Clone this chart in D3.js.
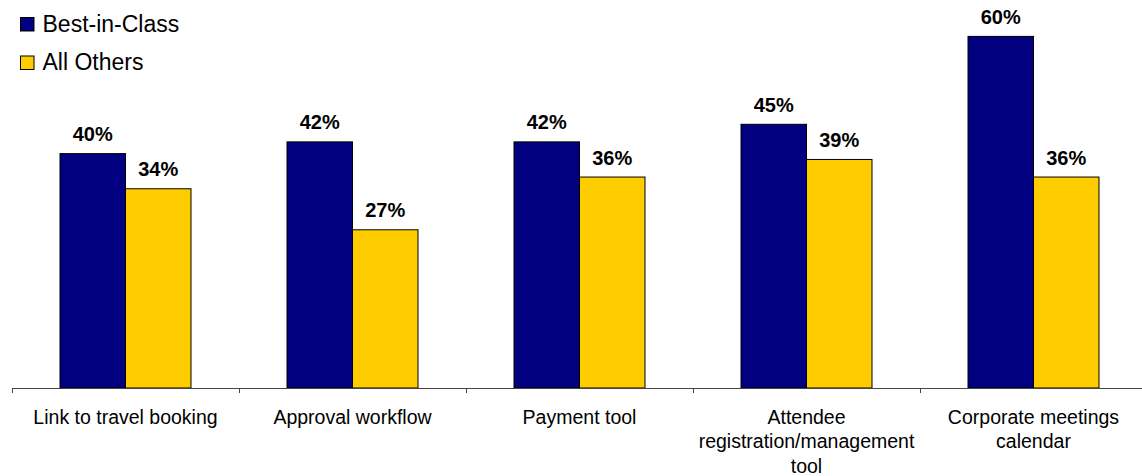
<!DOCTYPE html>
<html>
<head>
<meta charset="utf-8">
<script src="https://cdn.jsdelivr.net/npm/d3@7/dist/d3.min.js"></script>
<style>
  html, body { margin: 0; padding: 0; background: #fff; }
  svg { display: block; font-family: "Liberation Sans", Arial, sans-serif; }
</style>
</head>
<body>
<svg id="chart" width="1142" height="476"></svg>
<script>
// Chart data
const categories = [
  "Link to travel booking",
  "Approval workflow",
  "Payment tool",
  "Attendee registration/management tool",
  "Corporate meetings calendar"
];
const seriesNames = ["Best-in-Class", "All Others"];
const bestInClass = [40, 42, 42, 45, 60];
const allOthers = [34, 27, 36, 39, 36];
const seriesColors = ["#000080", "#FFCC00"];

const svg = d3.select("#chart");
const baseY = 388;

// Category bands span the axis; each holds two bars centred in the band
const x0 = d3.scaleBand().domain(categories).range([12, 1147]).padding(0);
const x1 = d3.scaleBand().domain(seriesNames)
  .range([0, x0.bandwidth()]).paddingInner(0).paddingOuter(0.733);
const y = d3.scaleLinear().domain([0, 60]).range([baseY, 36.4]);
const color = d3.scaleOrdinal().domain(seriesNames).range(seriesColors);

const rows = categories.map((c, i) => ({
  category: c,
  values: [
    { series: seriesNames[0], value: bestInClass[i] },
    { series: seriesNames[1], value: allOthers[i] }
  ]
}));

const groups = svg.append("g").selectAll("g")
  .data(rows).join("g")
  .attr("transform", d => `translate(${x0(d.category)},0)`);

groups.selectAll("rect")
  .data(d => d.values).join("rect")
  .attr("x", d => x1(d.series))
  .attr("y", d => y(d.value))
  .attr("width", x1.bandwidth())
  .attr("height", d => baseY - y(d.value))
  .attr("fill", d => color(d.series))
  .attr("stroke", "#000")
  .attr("stroke-width", 1);

groups.selectAll("text.val")
  .data(d => d.values).join("text")
  .attr("class", "val")
  .attr("x", d => x1(d.series) + x1.bandwidth() / 2)
  .attr("y", d => y(d.value) - 12.5)
  .attr("text-anchor", "middle")
  .attr("font-size", "20px")
  .attr("font-weight", "bold")
  .attr("fill", "#000")
  .text(d => d.value + "%");

// Category axis: baseline with ticks at band boundaries
const axis = svg.append("g").attr("transform", `translate(0,${baseY})`);
axis.append("line")
  .attr("x1", 12).attr("x2", 1142)
  .attr("y1", 0.5).attr("y2", 0.5)
  .attr("stroke", "#444").attr("stroke-width", 1);
axis.selectAll("line.tick")
  .data(categories).join("line")
  .attr("class", "tick")
  .attr("x1", d => Math.round(x0(d)) + 0.5)
  .attr("x2", d => Math.round(x0(d)) + 0.5)
  .attr("y1", 0).attr("y2", 5)
  .attr("stroke", "#444");

// Category labels, wrapped within the band
const labels = axis.selectAll("text.cat")
  .data(categories).join("text")
  .attr("class", "cat")
  .attr("text-anchor", "middle")
  .attr("font-size", "19.5px")
  .attr("fill", "#000")
  .attr("x", d => x0(d) + x0.bandwidth() / 2)
  .attr("y", 35.5);

labels.each(function(d) {
  const text = d3.select(this);
  const words = d.split(/\s+/);
  const cx = x0(d) + x0.bandwidth() / 2;
  const maxW = 218;
  let line = [];
  let tspan = text.append("tspan").attr("x", cx).attr("dy", 0);
  words.forEach(w => {
    line.push(w);
    tspan.text(line.join(" "));
    if (tspan.node().getComputedTextLength() > maxW && line.length > 1) {
      line.pop();
      tspan.text(line.join(" "));
      line = [w];
      tspan = text.append("tspan").attr("x", cx).attr("dy", 24.8).text(w);
    }
  });
});

// Legend
const legend = svg.append("g").selectAll("g")
  .data(seriesNames).join("g")
  .attr("transform", (d, i) => `translate(20,${17 + i * 38.5})`);
legend.append("rect")
  .attr("x", 0.5).attr("y", 0.5)
  .attr("width", 13.5).attr("height", 13.5)
  .attr("fill", d => color(d))
  .attr("stroke", "#000");
legend.append("text")
  .attr("x", 22.5).attr("y", 14.8)
  .attr("font-size", "23px")
  .attr("fill", "#000")
  .text(d => d);
</script>
</body>
</html>
